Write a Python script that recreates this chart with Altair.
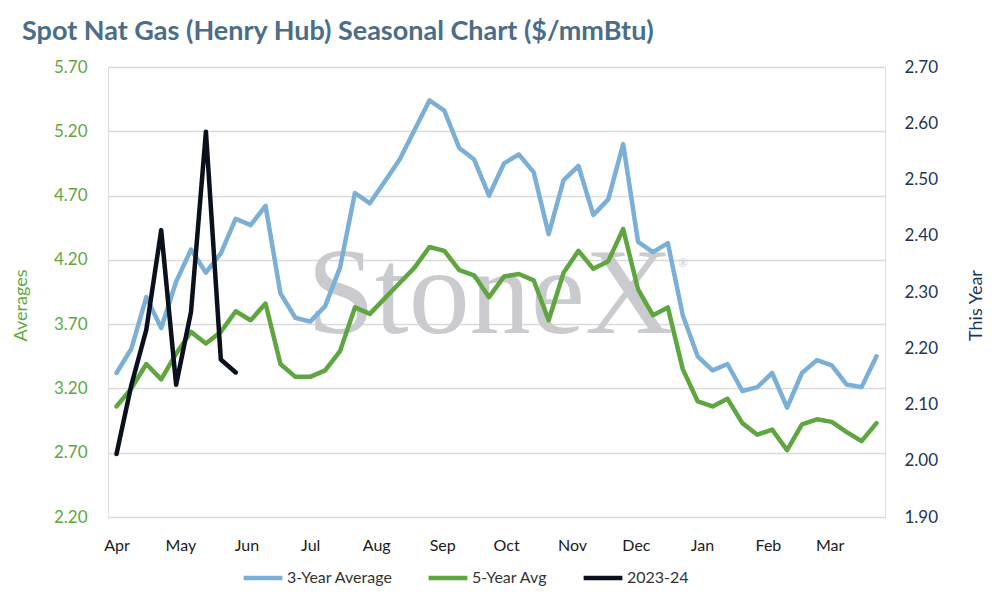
import altair as alt
import pandas as pd

# ---- data ----
weeks = pd.date_range("2023-04-01", periods=52, freq="7D").strftime("%Y-%m-%d").tolist()

avg3 = [3.32, 3.51, 3.91, 3.67, 4.03, 4.28, 4.10, 4.25, 4.52, 4.47, 4.62, 3.94,
        3.75, 3.72, 3.84, 4.14, 4.72, 4.64, 4.81, 4.98, 5.21, 5.44, 5.36, 5.07,
        4.98, 4.70, 4.95, 5.02, 4.88, 4.40, 4.82, 4.93, 4.55, 4.67, 5.10, 4.34,
        4.26, 4.33, 3.77, 3.45, 3.34, 3.39, 3.18, 3.21, 3.32, 3.05, 3.32, 3.42,
        3.38, 3.23, 3.21, 3.45]
avg5 = [3.06, 3.20, 3.39, 3.27, 3.47, 3.64, 3.55, 3.64, 3.80, 3.73, 3.86, 3.39,
        3.29, 3.29, 3.34, 3.49, 3.83, 3.78, 3.90, 4.02, 4.14, 4.30, 4.27, 4.12,
        4.08, 3.91, 4.07, 4.09, 4.04, 3.73, 4.10, 4.27, 4.13, 4.19, 4.44, 3.97,
        3.77, 3.83, 3.35, 3.10, 3.06, 3.12, 2.93, 2.84, 2.88, 2.72, 2.92, 2.96,
        2.94, 2.86, 2.79, 2.93]
this_year = [2.012, 2.135, 2.233, 2.410, 2.135, 2.265, 2.585, 2.180, 2.157]

series_names = ["3-Year Average", "5-Year Avg", "2023-24"]
series_colors = ["#7BAFD6", "#5FA641", "#0B111C"]
left_ticks = [2.20, 2.70, 3.20, 3.70, 4.20, 4.70, 5.20, 5.70]
right_ticks = [1.90, 2.00, 2.10, 2.20, 2.30, 2.40, 2.50, 2.60, 2.70]

avg_df = pd.DataFrame({
    "week": weeks * 2,
    "value": avg3 + avg5,
    "series": [series_names[0]] * len(avg3) + [series_names[1]] * len(avg5),
})
ty_df = pd.DataFrame({
    "week": weeks[:len(this_year)],
    "value": this_year,
    "series": [series_names[2]] * len(this_year),
})

FONT = "Lato"

x_enc = alt.X(
    "week:T",
    scale=alt.Scale(type="utc",
                    domain=[alt.DateTime(year=2023, month=3, date=28, utc=True),
                            alt.DateTime(year=2024, month=3, date=27, utc=True)]),
    axis=alt.Axis(title=None, labelExpr="utcFormat(datum.value, '%b')",
                  tickCount={"interval": "month", "step": 1}, labelOverlap=False,
                  grid=False, domain=False, ticks=False, labelPadding=20,
                  labelFontSize=16, labelColor="#1a1a1a", labelFont=FONT),
)

color_enc = alt.Color(
    "series:N",
    scale=alt.Scale(domain=series_names, range=series_colors),
    legend=alt.Legend(title=None, orient="none", direction="horizontal",
                      legendX=133, legendY=489,
                      symbolType="stroke", symbolSize=1500, symbolStrokeWidth=4.5,
                      labelFontSize=16, labelColor="#333333", labelFont=FONT,
                      labelOffset=2, columnPadding=26),
)

watermark = alt.Chart(pd.DataFrame({"t": ["StoneX"]})).mark_text(
    font="Liberation Serif", fontSize=122, color="#CACBCE", align="center", baseline="alphabetic"
).encode(text="t:N", x=alt.value(382), y=alt.value(266))

reg = alt.Chart(pd.DataFrame({"t": ["®"]})).mark_text(
    font="Liberation Serif", fontSize=13, color="#CACBCE", align="left", baseline="middle"
).encode(text="t:N", x=alt.value(570), y=alt.value(196))

avg_lines = alt.Chart(avg_df).mark_line(strokeWidth=4.5, strokeJoin="round", strokeCap="round").encode(
    x=x_enc,
    y=alt.Y("value:Q",
            scale=alt.Scale(domain=[2.2, 5.7], nice=False, zero=False),
            axis=alt.Axis(title="Averages", values=left_ticks, format=".2f",
                          orient="left", domain=False, ticks=False, labelPadding=21,
                          gridColor="#D9D9D9", gridWidth=1.6,
                          labelFontSize=17, labelColor="#5FA641", labelFont=FONT,
                          titleFontSize=18, titleColor="#5FA641", titleFont=FONT,
                          titleFontWeight="normal", titlePadding=23, titleY=238)),
    color=color_enc,
    order=alt.Order("week:T"),
)

ty_line = alt.Chart(ty_df).mark_line(strokeWidth=4.5, strokeJoin="round", strokeCap="round").encode(
    x=x_enc,
    y=alt.Y("value:Q",
            scale=alt.Scale(domain=[1.9, 2.7], nice=False, zero=False),
            axis=alt.Axis(title="This Year", values=right_ticks, format=".2f",
                          orient="right", grid=False, domain=False, ticks=False, labelPadding=19,
                          labelFontSize=17, labelColor="#1F3552", labelFont=FONT,
                          titleFontSize=18, titleColor="#17375E", titleFont=FONT,
                          titleFontWeight="normal", titleAngle=270, titlePadding=48, titleY=238)),
    color=color_enc,
)

chart = alt.layer(watermark, reg, avg_lines, ty_line).resolve_scale(
    y="independent"
).properties(
    width=777, height=450,
    padding={"left": 100, "right": 100, "top": 59, "bottom": 72},
    autosize=alt.AutoSizeParams(type="none"),
    title=alt.TitleParams(
        "Spot Nat Gas (Henry Hub) Seasonal Chart ($/mmBtu)",
        anchor="start", frame="group", dx=-86, offset=12,
        font=FONT, fontSize=27, fontWeight="bold", color="#4A6D89",
    ),
).configure_view(stroke=None).configure(background="white")

chart.save("out.html", embed_options={"renderer": "svg", "actions": False})
